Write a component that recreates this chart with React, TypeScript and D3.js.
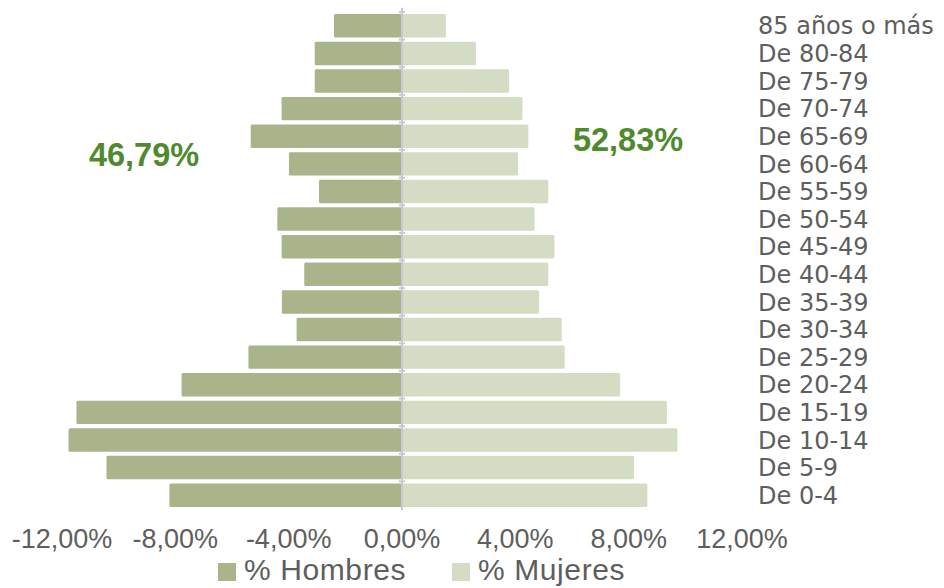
import * as d3 from "d3";
import { useRef, useEffect } from "react";

const categories = [
  "85 años o más", "De 80-84", "De 75-79", "De 70-74", "De 65-69", "De 60-64",
  "De 55-59", "De 50-54", "De 45-49", "De 40-44", "De 35-39", "De 30-34",
  "De 25-29", "De 20-24", "De 15-19", "De 10-14", "De 5-9", "De 0-4",
];
const hombres = [2.40, 3.08, 3.08, 4.25, 5.34, 3.99, 2.93, 4.40, 4.25, 3.45, 4.24, 3.72, 5.42, 7.78, 11.49, 11.77, 10.43, 8.21];
const mujeres = [1.55, 2.61, 3.78, 4.25, 4.46, 4.10, 5.16, 4.68, 5.38, 5.16, 4.84, 5.64, 5.74, 7.70, 9.35, 9.72, 8.19, 8.66];
const xTicks = [-12, -8, -4, 0, 4, 8, 12];
const totalHombres = "46,79%";
const totalMujeres = "52,83%";

export default function App() {
  const svgRef = useRef<SVGSVGElement>(null);

  useEffect(() => {
    const svg = d3.select(svgRef.current);
    svg.selectAll("*").remove();

    const colH = "#a9b48a";
    const colM = "#d5dcc4";
    const grey = "#5e5e5e";

    const x = d3.scaleLinear().domain([-12, 12]).range([62, 742]);
    const y = d3.scaleBand().domain(categories).range([12, 509]).paddingInner(0.15).paddingOuter(0.075);

    // hombres (left)
    svg.append("g")
      .selectAll("rect")
      .data(hombres)
      .enter()
      .append("rect")
      .attr("x", (d) => x(-d))
      .attr("y", (d, i) => y(categories[i]))
      .attr("width", (d) => x(0) - x(-d))
      .attr("height", y.bandwidth())
      .attr("rx", 1.5)
      .attr("fill", colH);

    // mujeres (right)
    svg.append("g")
      .selectAll("rect")
      .data(mujeres)
      .enter()
      .append("rect")
      .attr("x", x(0))
      .attr("y", (d, i) => y(categories[i]))
      .attr("width", (d) => x(d) - x(0))
      .attr("height", y.bandwidth())
      .attr("rx", 1.5)
      .attr("fill", colM);

    // vertical axis
    const axisCol = "#c6c9d6";
    svg.append("line")
      .attr("x1", x(0)).attr("x2", x(0))
      .attr("y1", 8).attr("y2", 510)
      .attr("stroke", axisCol).attr("stroke-width", 2);
    svg.append("g")
      .selectAll("line")
      .data(categories)
      .enter()
      .append("line")
      .attr("x1", x(0) - 3).attr("x2", x(0) + 3)
      .attr("y1", (d) => y(d) - y.step() * 0.075)
      .attr("y2", (d) => y(d) - y.step() * 0.075)
      .attr("stroke", axisCol).attr("stroke-width", 2);

    // category labels
    svg.append("g")
      .selectAll("text")
      .data(categories)
      .enter()
      .append("text")
      .attr("x", 758)
      .attr("y", (d) => y(d) + y.bandwidth() / 2)
      .attr("dy", "0.36em")
      .attr("font-family", "DejaVu Sans")
      .attr("font-size", 24)
      .attr("fill", grey)
      .text((d) => d);

    // x tick labels
    svg.append("g")
      .selectAll("text")
      .data(xTicks)
      .enter()
      .append("text")
      .attr("x", (d) => x(d))
      .attr("y", 548)
      .attr("text-anchor", "middle")
      .attr("font-family", "Liberation Sans")
      .attr("font-size", 27)
      .attr("fill", grey)
      .text((d) => d.toFixed(2).replace(".", ",") + "%");

    // totals
    svg.append("text")
      .attr("x", 144).attr("y", 166)
      .attr("text-anchor", "middle")
      .attr("font-family", "Liberation Sans")
      .attr("font-weight", "bold")
      .attr("font-size", 32.5)
      .attr("fill", "#4f8a2e")
      .text(totalHombres);
    svg.append("text")
      .attr("x", 628).attr("y", 151)
      .attr("text-anchor", "middle")
      .attr("font-family", "Liberation Sans")
      .attr("font-weight", "bold")
      .attr("font-size", 32.5)
      .attr("fill", "#4f8a2e")
      .text(totalMujeres);

    // legend
    const legend = [
      { name: "% Hombres", color: colH, x: 218 },
      { name: "% Mujeres", color: colM, x: 452 },
    ];
    const lg = svg.append("g");
    legend.forEach((l) => {
      lg.append("rect")
        .attr("x", l.x).attr("y", 563)
        .attr("width", 18).attr("height", 18)
        .attr("fill", l.color);
      lg.append("text")
        .attr("x", l.x + 26).attr("y", 580)
        .attr("font-family", "Liberation Sans")
        .attr("font-size", 30)
        .attr("letter-spacing", 0.6)
        .attr("fill", grey)
        .text(l.name);
    });
  }, []);

  return (
    <div>
      <svg
        ref={svgRef}
        width={944}
        height={588}
        style={{ position: "absolute", left: 0, top: 0, background: "#fff" }}
      ></svg>
    </div>
  );
}
